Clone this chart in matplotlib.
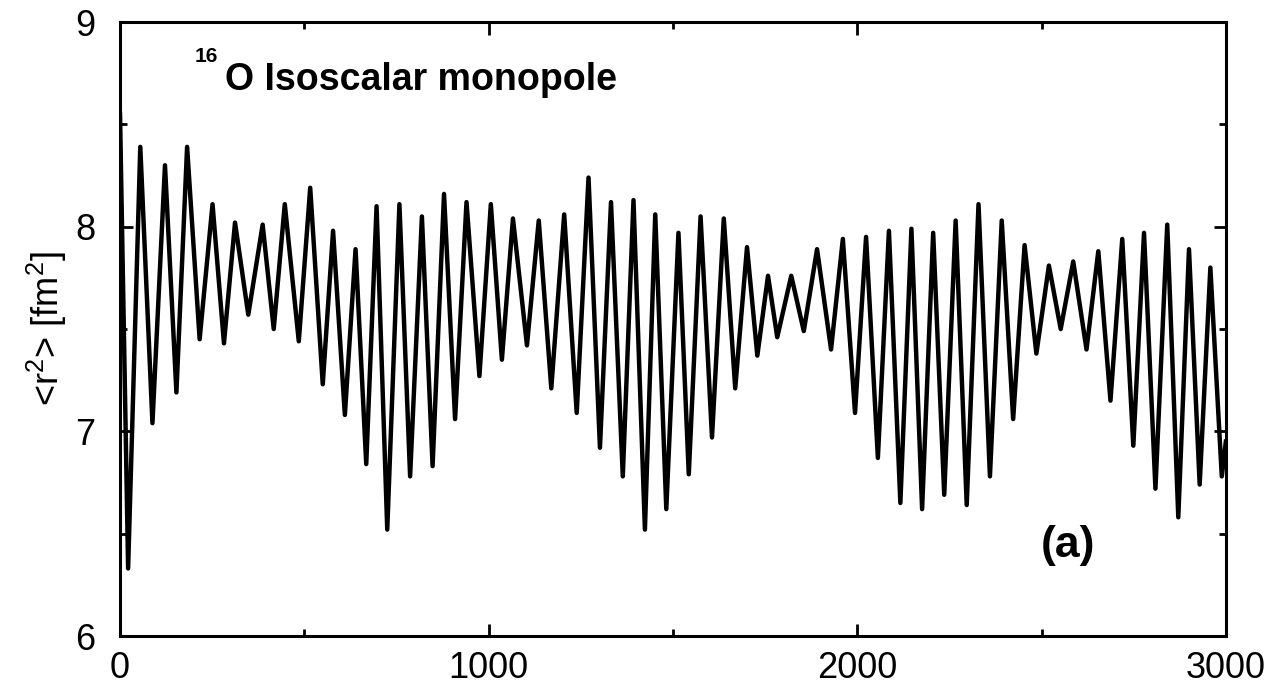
import numpy as np
import matplotlib.pyplot as plt
from matplotlib.ticker import MultipleLocator

plt.rcParams["font.family"] = ["Liberation Sans", "DejaVu Sans"]
plt.rcParams["mathtext.fontset"] = "custom"
plt.rcParams["mathtext.rm"] = "Liberation Sans"
plt.rcParams["mathtext.bf"] = "Liberation Sans:bold"

# time axis (fm/c) and <r^2> values at the turning points of the oscillation,
# read off the reference picture
t = [0, 22, 55, 88, 122, 153, 182, 216, 251, 282, 312, 348, 387, 417, 447, 485,
     516, 550, 578, 610, 639, 668, 696, 725, 758, 787, 819, 848, 879, 909, 940, 975,
     1006, 1036, 1066, 1104, 1136, 1170, 1205, 1239, 1271, 1302, 1332, 1364, 1393,
     1424, 1452, 1482, 1515, 1543, 1575, 1606, 1638, 1669, 1701, 1729, 1758, 1783,
     1821, 1855, 1891, 1929, 1961, 1994, 2024, 2056, 2086, 2117, 2147, 2176, 2206,
     2236, 2267, 2297, 2329, 2360, 2392, 2423, 2454, 2486, 2520, 2552, 2586, 2622,
     2654, 2687, 2719, 2749, 2778, 2809, 2841, 2871, 2900, 2929, 2958, 2989, 3000]
r2 = [8.55, 6.33, 8.39, 7.04, 8.30, 7.19, 8.39, 7.45, 8.11, 7.43, 8.02, 7.57, 8.01,
      7.50, 8.11, 7.44, 8.19, 7.23, 7.98, 7.08, 7.89, 6.84, 8.10, 6.52, 8.11, 6.78,
      8.05, 6.83, 8.16, 7.06, 8.12, 7.27, 8.11, 7.35, 8.04, 7.42, 8.03, 7.21, 8.06,
      7.09, 8.24, 6.92, 8.12, 6.78, 8.13, 6.52, 8.06, 6.62, 7.97, 6.79, 8.05, 6.97,
      8.04, 7.21, 7.90, 7.37, 7.76, 7.46, 7.76, 7.49, 7.89, 7.40, 7.94, 7.09, 7.95,
      6.87, 7.98, 6.65, 7.99, 6.62, 7.97, 6.69, 8.03, 6.64, 8.11, 6.78, 8.03, 7.06,
      7.91, 7.38, 7.81, 7.50, 7.83, 7.40, 7.88, 7.15, 7.94, 6.93, 7.97, 6.72, 8.01,
      6.58, 7.89, 6.74, 7.80, 6.78, 6.95]

fig = plt.figure(figsize=(12.74, 6.92), dpi=100)
ax = fig.add_axes([0.0942, 0.0809, 0.868, 0.8873])

ax.plot(t, r2, color="black", linewidth=3.2, solid_joinstyle="round")

ax.set_xlim(0, 3000)
ax.set_ylim(6, 9)
ax.xaxis.set_major_locator(MultipleLocator(1000))
ax.xaxis.set_minor_locator(MultipleLocator(500))
ax.yaxis.set_major_locator(MultipleLocator(1))
ax.yaxis.set_minor_locator(MultipleLocator(0.5))
ax.tick_params(which="both", direction="in", top=True, right=True,
               width=2.0, labelsize=26)
ax.tick_params(which="major", length=9)
ax.tick_params(which="minor", length=5)
ax.tick_params(axis="x", which="major", pad=11)
ax.tick_params(axis="y", which="major", pad=18)
for sp in ax.spines.values():
    sp.set_linewidth(2.2)

ax.set_ylabel(r"<r$^2$> [fm$^2$]", fontsize=26, labelpad=4)

# title with the mass number as a separate small superscript
ax.text(0.0678, 0.935, "16", transform=ax.transAxes,
        fontsize=15, fontweight="bold", ha="left", va="baseline")
ax.text(0.0949, 0.889, "O Isoscalar monopole", transform=ax.transAxes,
        fontsize=27, fontweight="bold", ha="left", va="baseline")
ax.text(0.833, 0.129, "(a)", transform=ax.transAxes,
        fontsize=32, fontweight="bold", ha="left", va="baseline")

fig.savefig("out.png", dpi=100)
